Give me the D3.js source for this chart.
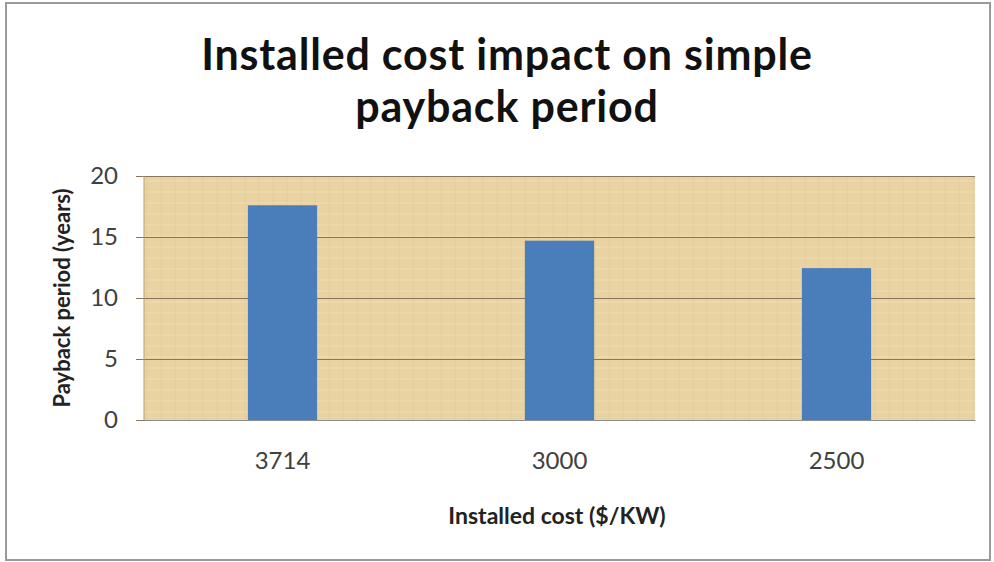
<!DOCTYPE html>
<html>
<head>
<meta charset="utf-8">
<script src="https://cdn.jsdelivr.net/npm/d3@7"></script>
<style>
  body { margin: 0; background: #fff; }
  svg text { font-family: Lato, "Open Sans", sans-serif; }
</style>
</head>
<body>
<script>
document.addEventListener('DOMContentLoaded', function () {

  const categories = ['3714', '3000', '2500'];
  const payback = [17.6, 14.7, 12.45]; // payback period in years
  const yTicks = [0, 5, 10, 15, 20];
  const titleLines = ['Installed cost impact on simple', 'payback period'];

  const w = 994;
  const h = 562;
  const left = 144, right = 975, top = 176, bottom = 420;

  const svg = d3.select('body').
  append('svg').
  attr('width', w).
  attr('height', h);

  // outer chart frame
  svg.append('rect').
  attr('x', 6).
  attr('y', 3).
  attr('width', 984).
  attr('height', 557).
  attr('fill', '#fff').
  attr('stroke', '#9a9a9a').
  attr('stroke-width', 2);

  const xScale = d3.scaleBand().
  domain(categories).
  range([left, right]).
  paddingInner(0.75).
  paddingOuter(0.375);

  const yScale = d3.scaleLinear().
  domain([0, 20]).
  range([bottom, top]);

  // papyrus-ish plot background
  const defs = svg.append('defs');
  const pat = defs.append('pattern').
  attr('id', 'papyrus').
  attr('patternUnits', 'userSpaceOnUse').
  attr('width', 14).
  attr('height', 11);
  pat.append('rect').attr('width', 14).attr('height', 11).attr('fill', '#ead3a3');
  pat.append('line').attr('x1', 0).attr('y1', 5).attr('x2', 14).attr('y2', 5).
  attr('stroke', '#f0ddb3').attr('stroke-width', 1.5).attr('opacity', 0.7);
  pat.append('line').attr('x1', 7).attr('y1', 0).attr('x2', 7).attr('y2', 11).
  attr('stroke', '#e0c792').attr('stroke-width', 1).attr('opacity', 0.6);

  svg.append('rect').
  attr('x', left).
  attr('y', top).
  attr('width', right - left).
  attr('height', bottom - top).
  attr('fill', 'url(#papyrus)');

  // gridlines + y axis
  const yAxis = d3.axisLeft(yScale).
  tickValues(yTicks).
  tickSize(-(right - left) - 8);

  const gy = svg.append('g').
  attr('transform', 'translate(' + right + ',0)').
  call(yAxis);
  gy.select('.domain').remove();
  gy.selectAll('.tick line').
  attr('x1', 0).
  attr('x2', -(right - left) - 8).
  attr('stroke', '#85755e').
  attr('stroke-width', 1.2);
  gy.selectAll('.tick text').
  attr('x', -(right - left) - 26).
  style('font-size', '24px').
  attr('fill', '#404040');

  svg.append('line').
  attr('x1', left).
  attr('x2', left).
  attr('y1', top).
  attr('y2', bottom).
  attr('stroke', '#b59d72');

  svg.selectAll('rect.bar').
  data(payback).
  enter().
  append('rect').
  attr('class', 'bar').
  attr('x', (d, i) => xScale(categories[i])).
  attr('y', d => yScale(d)).
  attr('width', xScale.bandwidth()).
  attr('height', d => bottom - yScale(d)).
  attr('fill', '#4a7ebb');

  const xAxis = d3.axisBottom(xScale).
  tickSize(0).
  tickPadding(32);

  const gx = svg.append('g').
  attr('transform', 'translate(0,' + bottom + ')').
  call(xAxis);
  gx.select('.domain').
  attr('stroke', '#8c8c8c');
  gx.selectAll('.tick text').
  style('font-size', '24px').
  attr('fill', '#404040');

  svg.append('text').
  attr('text-anchor', 'middle').
  selectAll('tspan').
  data(titleLines).
  enter().
  append('tspan').
  attr('x', 507).
  attr('y', (d, i) => 70 + i * 52).
  style('font-size', '43px').
  style('font-weight', 'bold').
  style('letter-spacing', '0.8px').
  attr('fill', '#111').
  text(d => d);

  svg.append('text').
  attr('x', 557).
  attr('y', 524).
  attr('text-anchor', 'middle').
  style('font-size', '23px').
  style('font-weight', 'bold').
  attr('fill', '#222').
  text('Installed cost ($/KW)');

  svg.append('text').
  attr('transform', 'translate(70,298) rotate(-90)').
  attr('text-anchor', 'middle').
  style('font-size', '22px').
  style('font-weight', 'bold').
  attr('fill', '#222').
  text('Payback period (years)');

});
</script>
</body>
</html>
